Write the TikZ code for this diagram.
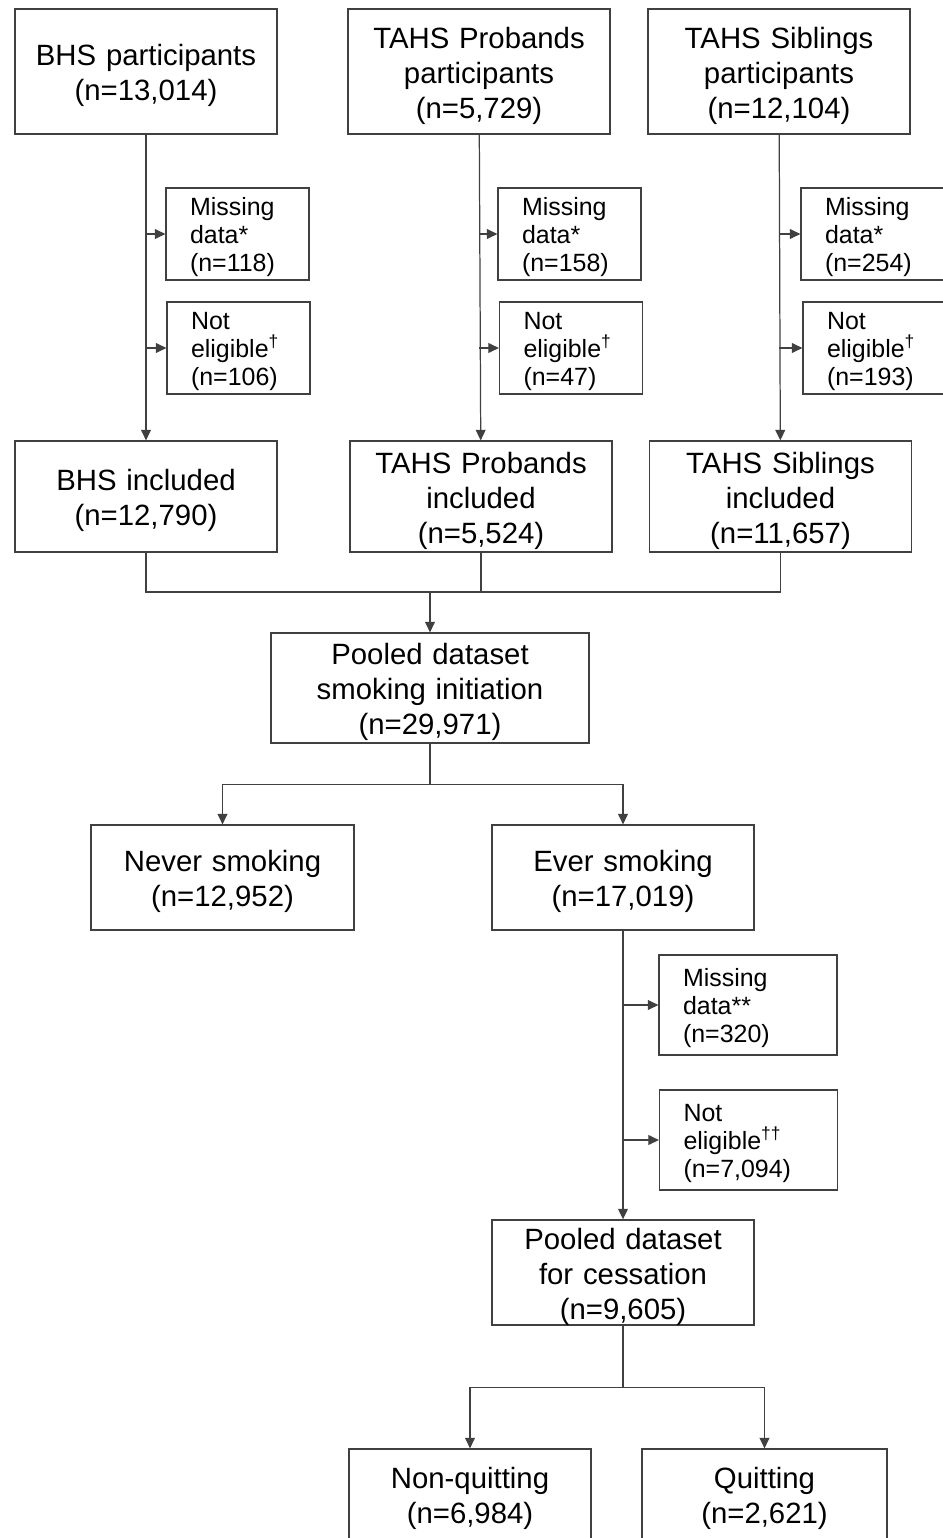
\documentclass[tikz,border=0pt]{standalone}
\usepackage{fontspec}
\setmainfont{Liberation Sans}
\usepackage{tikz}
\usetikzlibrary{arrows.meta}
\newcommand{\boxfont}{\fontsize{16.7}{19.9}\selectfont}
\newcommand{\sidefont}{\fontsize{14.2}{15.9}\selectfont}

\begin{document}
\begin{tikzpicture}[x=0.02cm,y=-0.02cm,line width=0.7pt,
            >={Triangle[length=6pt,width=5.6pt]},
            mainbox/.style={draw=black!75,align=center,font=\boxfont,inner sep=0pt,text width=5.24cm,execute at begin node={\rule{0pt}{16.6pt}}},
            sidebox/.style={draw=black!75,align=left,font=\sidefont,inner xsep=0.48cm,inner ysep=0pt,text width=1.9cm,minimum height=1.84cm,execute at begin node={\rule{0pt}{13.3pt}}},
            widebox/.style={sidebox,text width=2.6cm,minimum height=2cm}]
            \useasboundingbox (0,0) rectangle (943,1538);
            \node[mainbox,minimum height=2.5cm] (bhs) at (146,71.5) {BHS participants\\(n=13,014)};
            \node[mainbox,minimum height=2.5cm] (prob) at (479,71.5) {TAHS Probands\\participants\\(n=5,729)};
            \node[mainbox,minimum height=2.5cm] (sib) at (779,71.5) {TAHS Siblings\\participants\\(n=12,104)};
            \node[sidebox] (miss1) at (237.5,234) {Missing\\data*\\(n=118)};
            \node[sidebox] (nel1) at (238.5,348) {Not\\eligible\textsuperscript{†}\\(n=106)};
            \node[sidebox] (miss2) at (569.5,234) {Missing\\data*\\(n=158)};
            \node[sidebox] (nel2) at (571,348) {Not\\eligible\textsuperscript{†}\\(n=47)};
            \node[sidebox] (miss3) at (872.5,234) {Missing\\data*\\(n=254)};
            \node[sidebox] (nel3) at (874.5,348) {Not\\eligible\textsuperscript{†}\\(n=193)};
            \node[mainbox,minimum height=2.22cm] (bhsinc) at (146,496.5) {BHS included\\(n=12,790)};
            \node[mainbox,minimum height=2.22cm] (probinc) at (481,496.5) {TAHS Probands\\included\\(n=5,524)};
            \node[mainbox,minimum height=2.22cm] (sibinc) at (780.5,496.5) {TAHS Siblings\\included\\(n=11,657)};
            \node[mainbox,text width=6.36cm,minimum height=2.2cm] (pool) at (430,688) {Pooled dataset\\smoking initiation\\(n=29,971)};
            \node[mainbox,text width=5.26cm,minimum height=2.1cm] (never) at (222.5,877.5) {Never smoking\\(n=12,952)};
            \node[mainbox,minimum height=2.1cm] (ever) at (623,877.5) {Ever smoking\\(n=17,019)};
            \node[widebox] (missE) at (748,1005) {Missing\\data**\\(n=320)};
            \node[widebox] (nelE) at (748.5,1140) {Not\\eligible\textsuperscript{††}\\(n=7,094)};
            \node[mainbox,minimum height=2.1cm] (cess) at (623,1272.5) {Pooled dataset\\for cessation\\(n=9,605)};
            \node[mainbox,text width=4.84cm,minimum height=1.82cm] (nq) at (470,1494.5) {Non-quitting\\(n=6,984)};
            \node[mainbox,text width=4.9cm,minimum height=1.82cm] (quit) at (764.5,1494.5) {Quitting\\(n=2,621)};
            \coordinate (mrg) at (430,592);
            \draw[->,draw=black!75] (bhs) -- (bhsinc);
            \draw[->,draw=black!75] (prob) -- (probinc);
            \draw[->,draw=black!75] (sib) -- (sibinc);
            \foreach \src/\dst in {bhs/miss1,bhs/nel1,prob/miss2,prob/nel2,sib/miss3,sib/nel3,ever/missE,ever/nelE}
                \draw[->,draw=black!75] (\src.south |- \dst.west) -- (\dst.west);
            \draw[draw=black!75] (bhsinc.south) -- (bhsinc.south |- mrg) -| (sibinc.south);
            \draw[draw=black!75] (probinc.south) -- (probinc.south |- mrg);
            \draw[->,draw=black!75] (mrg) -- (pool);
            \draw[->,draw=black!75] (pool.south) -- ++(0,41) -| (never.north);
            \draw[->,draw=black!75] (pool.south) ++(0,41) -| (ever.north);
            \draw[->,draw=black!75] (ever) -- (cess);
            \draw[->,draw=black!75] (cess.south) -- ++(0,62) -| (nq.north);
            \draw[->,draw=black!75] (cess.south) ++(0,62) -| (quit.north);
        \end{tikzpicture}
\end{document}
